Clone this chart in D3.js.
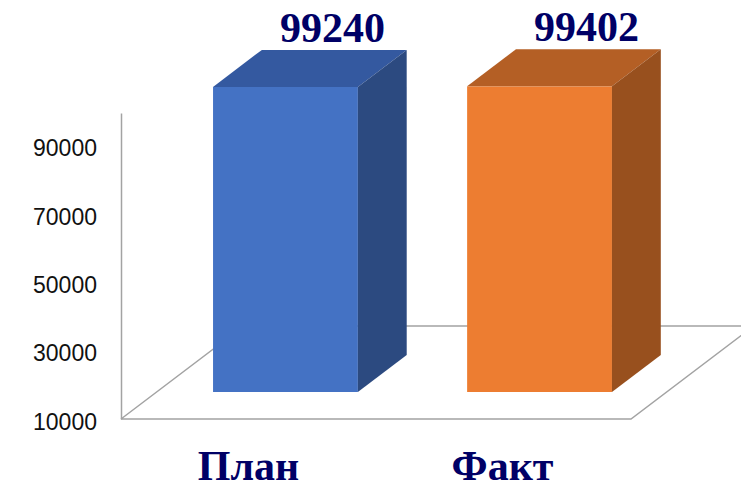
<!DOCTYPE html>
<html>
<head>
<meta charset="utf-8">
<script src="https://cdn.jsdelivr.net/npm/d3@7"></script>
<style>
	body { margin: 0; background: #fff; }
	svg { display: block; }
</style>
</head>
<body>
<div id="chart"></div>
<script>
// chart data
const categories = ['План', 'Факт']
const values = [99240, 99402]
const valueLabels = ['99240', '99402']
const tickValues = [10000, 30000, 50000, 70000, 90000]

const frontColors = ['#4472C4', '#ED7D31']
const topColors = ['#3459A0', '#B45F25']
const sideColors = ['#2C4A80', '#98501E']

const width = 741
const height = 489

// oblique depth (3d look)
const slope = 1.32
const barDepth = 37
const barFront = 27
const floorDepth = 93

const svg = d3.select('#chart')
	.append('svg')
	.attr('width', width)
	.attr('height', height)

const x = d3.scaleBand()
	.domain(categories)
	.range([86, 739])
	.paddingInner(0.43)
	.paddingOuter(0.5)

const y = d3.scaleLinear()
	.domain([10000, 99500])
	.range([419, 113])

const floorLeft = 121
const floorRight = 631
const floorY = y(10000)

//-------------------floor + axis----------------------------------
const lineColor = '#A3A3A3'
const floor = svg.append('g')
	.attr('stroke', lineColor)
	.attr('stroke-width', 1.5)
	.attr('fill', 'none')

floor.append('path')
	.attr('d', d3.line()([
		[floorLeft, floorY],
		[floorLeft + floorDepth * slope, floorY - floorDepth],
		[floorRight + floorDepth * slope, floorY - floorDepth],
		[floorRight, floorY],
		[floorLeft, floorY]
	]))

const axis = svg.append('g')
	.attr('transform', `translate(${floorLeft},0)`)
	.call(d3.axisLeft(y).tickValues(tickValues).tickSize(0).tickPadding(24).tickFormat(d3.format('d')))

axis.select('.domain')
	.attr('stroke', lineColor)
	.attr('stroke-width', 1.5)
axis.selectAll('text')
	.attr('font-family', '"Liberation Sans", Arial, sans-serif')
	.attr('font-size', '23px')
	.attr('fill', '#111')
	.attr('dy', '0.45em')

//-------------------bars----------------------------------
const bars = svg.append('g')
	.selectAll('g')
	.data(categories)
	.join('g')

const dx = barDepth * slope

bars.each(function (c, i) {
	const g = d3.select(this)
	const x0 = x(c)
	const x1 = x0 + x.bandwidth()
	const yb = y(10000) - barFront
	const yt = y(values[i]) - barFront

	// front face
	g.append('rect')
		.attr('x', x0)
		.attr('y', yt)
		.attr('width', x.bandwidth())
		.attr('height', yb - yt)
		.attr('fill', frontColors[i])

	// top face
	g.append('path')
		.attr('d', d3.line()([[x0, yt], [x0 + dx, yt - barDepth], [x1 + dx, yt - barDepth], [x1, yt]]) + 'Z')
		.attr('fill', topColors[i])

	// side face
	g.append('path')
		.attr('d', d3.line()([[x1, yt], [x1 + dx, yt - barDepth], [x1 + dx, yb - barDepth], [x1, yb]]) + 'Z')
		.attr('fill', sideColors[i])
})

// value labels
svg.append('g')
	.selectAll('text')
	.data(categories)
	.join('text')
	.attr('x', d => x(d) + x.bandwidth() / 2 + 47)
	.attr('y', (d, i) => y(values[i]) - barFront - 45)
	.attr('text-anchor', 'middle')
	.attr('font-family', '"Liberation Serif", "Times New Roman", serif')
	.attr('font-weight', 'bold')
	.attr('font-size', '42px')
	.attr('fill', '#000066')
	.text((d, i) => valueLabels[i])

// category labels
svg.append('g')
	.selectAll('text')
	.data(categories)
	.join('text')
	.attr('x', d => x(d) + x.bandwidth() / 2 - 37)
	.attr('y', 480)
	.attr('text-anchor', 'middle')
	.attr('font-family', '"Liberation Serif", "Times New Roman", serif')
	.attr('font-weight', 'bold')
	.attr('font-size', '42px')
	.attr('fill', '#000066')
	.text(d => d)
</script>
</body>
</html>
